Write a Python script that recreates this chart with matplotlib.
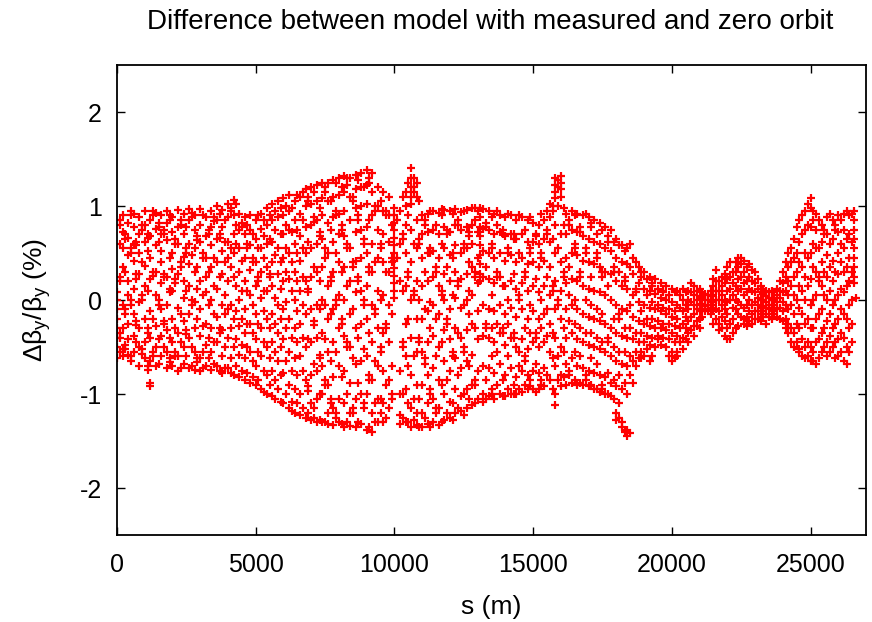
import matplotlib
matplotlib.use("Agg")
import matplotlib.pyplot as plt

plt.rcParams['font.family'] = ['Liberation Sans', 'DejaVu Sans']
plt.rcParams['mathtext.fontset'] = 'custom'
plt.rcParams['mathtext.rm'] = 'Liberation Sans'
plt.rcParams['mathtext.it'] = 'Liberation Sans'
plt.rcParams['axes.unicode_minus'] = False

title = "Difference between model with measured and zero orbit"
xlabel = "s (m)"
ylabel = r"$\Delta\beta_y/\beta_y$ (%)"
xticks = [0, 5000, 10000, 15000, 20000, 25000]
yticks = [-2, -1, 0, 1, 2]

# each entry: (s in m, list of delta beta_y / beta_y values in %)
octant1 = [
    (0, [-0.62, -0.5, -0.4, -0.3, -0.2, -0.1, 0.0, 0.08]),
    (200, [0.9, 0.72, 0.55, 0.35, -0.05, -0.3, -0.52, -0.6]),
    (400, [0.82, 0.66, 0.48, 0.2, 0.05, -0.25, -0.42, -0.58]),
    (600, [0.92, 0.78, 0.6, 0.42, 0.12, -0.15, -0.38, -0.55]),
    (800, [0.88, 0.7, 0.5, 0.28, -0.02, -0.3, -0.5, -0.7]),
    (1000, [0.95, 0.8, 0.62, 0.36, 0.15, -0.2, -0.45, -0.62]),
    (1200, [0.85, 0.68, 0.45, 0.22, -0.12, -0.4, -0.65, -0.88, -0.92]),
    (1400, [0.93, 0.76, 0.58, 0.3, 0.05, -0.28, -0.5, -0.7]),
    (1600, [0.9, 0.7, 0.52, 0.4, 0.18, -0.1, -0.38, -0.6]),
    (1800, [0.95, 0.82, 0.64, 0.25, -0.05, -0.32, -0.55, -0.72]),
    (2000, [0.88, 0.72, 0.5, 0.33, 0.1, -0.2, -0.45, -0.7]),
    (2200, [0.96, 0.78, 0.6, 0.28, -0.08, -0.35, -0.6, -0.76]),
    (2400, [0.92, 0.7, 0.46, 0.2, 0.02, -0.22, -0.5, -0.68]),
    (2600, [0.97, 0.85, 0.6, 0.38, 0.15, -0.15, -0.4, -0.72]),
    (2800, [0.9, 0.74, 0.55, 0.3, -0.02, -0.3, -0.55, -0.74]),
    (3000, [0.97, 0.8, 0.62, 0.2, -0.1, -0.38, -0.62, -0.76]),
    (3200, [0.88, 0.68, 0.45, 0.25, 0.08, -0.25, -0.48, -0.7]),
    (100, [0.85, 0.8, 0.6, 0.25, 0.2, -0.35, -0.4, -0.55]),
    (300, [0.7, 0.65, 0.3, -0.1, -0.15, -0.48, -0.52]),
    (500, [0.95, 0.9, 0.55, 0.5, 0.0, -0.05, -0.6, -0.65]),
    (700, [0.62, 0.58, 0.28, 0.22, -0.22, -0.27, -0.45]),
    (900, [0.8, 0.75, 0.4, 0.05, 0.0, -0.52, -0.57]),
    (1100, [0.7, 0.66, 0.52, 0.1, -0.3, -0.35, -0.7, -0.74]),
    (1300, [0.95, 0.9, 0.3, 0.26, -0.2, -0.55, -0.6]),
    (1500, [0.82, 0.78, 0.62, 0.0, -0.05, -0.42, -0.68]),
    (1700, [0.75, 0.7, 0.28, 0.24, -0.22, -0.26, -0.5]),
    (1900, [0.9, 0.85, 0.45, 0.12, 0.08, -0.4, -0.62, -0.66]),
    (2100, [0.65, 0.6, 0.22, 0.18, -0.3, -0.55, -0.6]),
    (2300, [0.85, 0.8, 0.4, 0.35, -0.15, -0.45, -0.72]),
    (2500, [0.78, 0.55, 0.5, 0.1, -0.32, -0.36, -0.6]),
    (2700, [0.93, 0.88, 0.48, 0.0, -0.05, -0.5, -0.7]),
    (2900, [0.68, 0.64, 0.35, 0.12, -0.2, -0.62, -0.66]),
    (3100, [0.9, 0.5, 0.45, 0.05, -0.28, -0.55, -0.72]),
    (3300, [0.75, 0.7, 0.3, -0.05, -0.4, -0.62]),
]
octant2 = [
    (3400, [0.95, 0.78, 0.58, 0.35, 0.0, -0.3, -0.55, -0.74]),
    (3600, [1.0, 0.85, 0.65, 0.4, 0.12, -0.18, -0.45, -0.7]),
    (3800, [0.96, 0.78, 0.52, 0.28, -0.05, -0.32, -0.6, -0.78]),
    (4000, [1.02, 0.88, 0.62, 0.45, 0.2, -0.1, -0.4, -0.72]),
    (4200, [1.06, 0.9, 0.7, 0.5, 0.25, -0.2, -0.5, -0.8]),
    (4400, [0.92, 0.75, 0.55, 0.3, 0.0, -0.28, -0.58, -0.82]),
    (4600, [0.88, 0.7, 0.45, 0.2, -0.1, -0.35, -0.62, -0.85]),
    (4800, [0.9, 0.74, 0.58, 0.32, 0.05, -0.25, -0.55, -0.88]),
    (5000, [0.85, 0.65, 0.4, 0.15, -0.15, -0.42, -0.7, -0.9]),
    (5200, [0.92, 0.76, 0.55, 0.3, 0.02, -0.3, -0.6, -0.95]),
    (5400, [0.98, 0.8, 0.6, 0.35, 0.1, -0.2, -0.5, -0.8, -1.0]),
    (5600, [1.02, 0.85, 0.62, 0.4, 0.15, -0.15, -0.45, -0.75, -1.02]),
    (5800, [1.05, 0.88, 0.55, 0.28, -0.05, -0.35, -0.65, -0.95]),
    (6000, [1.08, 0.9, 0.7, 0.45, 0.2, -0.1, -0.42, -0.78, -1.1]),
    (6200, [1.12, 0.95, 0.75, 0.5, 0.22, -0.2, -0.55, -0.9, -1.15]),
    (6400, [1.05, 0.85, 0.6, 0.3, 0.0, -0.3, -0.62, -0.95, -1.2]),
    (6600, [1.1, 0.92, 0.68, 0.42, 0.1, -0.25, -0.6, -1.0, -1.22]),
    (3500, [0.88, 0.84, 0.45, 0.15, -0.15, -0.45, -0.68]),
    (3700, [0.92, 0.7, 0.66, 0.25, -0.3, -0.35, -0.75]),
    (3900, [0.85, 0.62, 0.4, 0.05, -0.15, -0.5, -0.72]),
    (4100, [0.98, 0.95, 0.55, 0.35, -0.05, -0.3, -0.62, -0.78]),
    (4300, [1.02, 0.8, 0.6, 0.15, -0.12, -0.42, -0.7]),
    (4500, [0.82, 0.78, 0.42, 0.1, -0.2, -0.48, -0.75]),
    (4700, [0.8, 0.6, 0.55, 0.1, -0.25, -0.5, -0.78]),
    (4900, [0.7, 0.45, 0.4, -0.05, -0.35, -0.65, -0.82]),
    (5100, [0.9, 0.55, 0.25, 0.2, -0.25, -0.55, -0.85]),
    (5300, [0.85, 0.68, 0.45, 0.1, -0.12, -0.45, -0.75, -0.98]),
    (5500, [0.9, 0.65, 0.28, 0.24, -0.3, -0.62, -0.9]),
    (5700, [0.95, 0.75, 0.48, 0.02, -0.25, -0.55, -0.85, -1.05]),
    (5900, [0.98, 0.7, 0.4, 0.12, -0.2, -0.5, -0.8, -1.08]),
    (6100, [1.0, 0.8, 0.55, 0.3, -0.02, -0.3, -0.65, -1.0]),
    (6300, [0.98, 0.72, 0.4, 0.1, -0.4, -0.75, -1.08, -1.18]),
    (6500, [1.12, 0.75, 0.5, 0.2, -0.12, -0.45, -0.8, -1.1]),
    (6700, [1.15, 0.85, 0.55, 0.25, -0.05, -0.4, -0.75, -1.15]),
]
octant3 = [
    (6800, [1.18, 1.0, 0.78, 0.5, 0.2, -0.15, -0.5, -0.85, -1.25]),
    (7000, [1.2, 1.02, 0.8, 0.55, 0.25, -0.1, -0.45, -0.8, -1.1, -1.28]),
    (7200, [1.22, 1.05, 0.85, 0.6, 0.3, -0.05, -0.4, -0.75, -1.05, -1.3]),
    (7400, [1.24, 1.08, 0.9, 0.65, 0.35, 0.0, -0.35, -0.7, -1.0, -1.3]),
    (7600, [1.25, 1.05, 0.82, 0.5, 0.15, -0.2, -0.55, -0.9, -1.2, -1.32]),
    (7800, [1.28, 1.1, 0.88, 0.62, 0.3, -0.1, -0.45, -0.82, -1.15, -1.33]),
    (8000, [1.3, 1.12, 0.92, 0.7, 0.4, 0.05, -0.3, -0.7, -1.05, -1.3]),
    (8200, [1.32, 1.15, 0.95, 0.68, 0.35, 0.0, -0.38, -0.75, -1.1, -1.35]),
    (8400, [1.3, 1.1, 0.85, 0.55, 0.2, -0.15, -0.5, -0.88, -1.2, -1.34]),
    (8600, [1.33, 1.18, 0.98, 0.72, 0.42, 0.08, -0.3, -0.68, -1.05, -1.35]),
    (8800, [1.35, 1.2, 1.0, 0.75, 0.45, 0.1, -0.25, -0.65, -1.0, -1.32]),
    (9000, [1.38, 1.22, 1.02, 0.78, 0.5, 0.15, -0.2, -0.6, -1.0, -1.38]),
    (9200, [1.35, 1.15, 0.9, 0.6, 0.3, -0.05, -0.45, -0.85, -1.2, -1.4]),
    (9400, [1.2, 1.0, 0.75, 0.45, 0.1, -0.3, -0.7, -1.05, -1.3]),
    (9600, [1.15, 0.95, 0.7, 0.4, 0.05, -0.35, -0.75, -1.1, -1.3]),
    (9800, [1.1, 0.9, 0.62, 0.3, -0.05, -0.45, -0.85, -1.15]),
    (9970, [0.98, 0.9, 0.82, 0.74, 0.66, 0.58, 0.5, 0.42, 0.34, 0.26, 0.18, 0.1, 0.02]),
    (6900, [1.1, 1.05, 0.62, 0.12, 0.08, -0.42, -0.92, -0.97, -1.2]),
    (7100, [1.15, 0.88, 0.83, 0.35, -0.22, -0.27, -0.68, -1.15, -1.25]),
    (7300, [0.98, 0.72, 0.68, 0.2, -0.1, -0.58, -0.62, -1.0, -1.28]),
    (7500, [1.2, 1.15, 0.55, 0.45, -0.05, -0.42, -0.85, -0.9, -1.3]),
    (7700, [1.05, 0.75, 0.25, 0.2, -0.15, -0.65, -1.05, -1.1]),
    (7900, [1.25, 0.95, 0.9, 0.5, 0.0, -0.05, -0.55, -1.2, -1.25]),
    (8100, [1.2, 0.8, 0.75, 0.3, -0.2, -0.25, -0.82, -1.32]),
    (8300, [1.3, 1.22, 0.6, 0.55, 0.15, -0.45, -0.5, -1.0, -1.3]),
    (8500, [1.1, 1.05, 0.4, 0.35, -0.1, -0.62, -1.15, -1.2]),
    (8700, [1.28, 0.9, 0.85, 0.25, 0.2, -0.4, -0.88, -1.3]),
    (8900, [1.2, 0.65, 0.6, 0.0, -0.05, -0.52, -1.1, -1.15]),
    (9100, [1.3, 1.25, 0.85, 0.35, 0.3, -0.35, -0.8, -0.85, -1.35]),
    (9300, [1.0, 0.95, 0.4, -0.1, -0.15, -0.65, -1.1, -1.3]),
    (9500, [1.05, 0.6, 0.55, 0.0, -0.5, -0.55, -1.05, -1.2]),
    (9700, [0.95, 0.9, 0.3, -0.25, -0.3, -0.9, -1.25]),
    (9900, [0.8, 0.45, 0.4, -0.15, -0.7, -1.0, -1.05]),
]
octant4 = [
    (10200, [0.95, 0.6, 0.2, -0.75, -1.0, -1.22, -1.32]),
    (10400, [1.15, 1.0, 0.8, 0.5, 0.15, -0.25, -0.6, -0.95, -1.3]),
    (10600, [1.4, 1.3, 1.2, 1.1, 1.02, 0.75, 0.4, 0.0, -0.4, -0.8, -1.15, -1.35]),
    (10800, [1.25, 1.1, 0.85, 0.55, 0.2, -0.2, -0.55, -0.9, -1.2, -1.33]),
    (11000, [0.9, 0.7, 0.45, 0.15, -0.2, -0.55, -0.9, -1.2, -1.35]),
    (11200, [0.92, 0.72, 0.5, 0.2, -0.12, -0.45, -0.8, -1.1, -1.32]),
    (11400, [0.95, 0.75, 0.52, 0.25, -0.05, -0.38, -0.72, -1.05, -1.3]),
    (11600, [0.93, 0.7, 0.45, 0.15, -0.15, -0.5, -0.85, -1.15, -1.33]),
    (11800, [0.96, 0.78, 0.55, 0.28, 0.0, -0.32, -0.65, -1.0, -1.28]),
    (12000, [0.95, 0.72, 0.48, 0.2, -0.1, -0.42, -0.75, -1.08, -1.25]),
    (12200, [0.97, 0.8, 0.58, 0.3, 0.02, -0.3, -0.62, -0.95, -1.2]),
    (12400, [0.94, 0.74, 0.5, 0.22, -0.08, -0.4, -0.72, -1.02, -1.18]),
    (12600, [0.96, 0.78, 0.55, 0.28, 0.0, -0.32, -0.65, -0.95, -1.15]),
    (12800, [0.98, 0.8, 0.6, 0.35, 0.05, -0.25, -0.58, -0.9, -1.12]),
    (13000, [0.95, 0.72, 0.45, 0.18, -0.12, -0.42, -0.75, -1.05]),
    (13100, [0.98, 0.88, 0.78, 0.68, 0.58, 0.48, 0.38, 0.28, 0.2]),
    (13200, [0.97, 0.76, 0.52, 0.25, -0.05, -0.38, -0.7, -1.0, -1.08]),
    (13400, [0.95, 0.75, 0.5, 0.22, -0.1, -0.4, -0.72, -1.02]),
    (10100, [0.85, 0.45]),
    (10300, [1.1, 0.7, 0.65, 0.1, -0.45, -0.5, -1.0, -1.25]),
    (10500, [1.25, 0.9, 0.3, 0.25, -0.2, -0.7, -1.1, -1.3]),
    (10700, [1.3, 1.2, 1.15, 0.6, 0.1, 0.05, -0.6, -1.05, -1.28]),
    (10900, [1.05, 0.65, 0.6, 0.0, -0.4, -0.45, -1.05, -1.35]),
    (11100, [0.85, 0.8, 0.3, -0.1, -0.62, -0.68, -1.25]),
    (11300, [0.95, 0.55, 0.5, -0.02, -0.3, -0.95, -1.0, -1.35]),
    (11500, [0.8, 0.35, 0.3, -0.2, -0.6, -1.15, -1.2]),
    (11700, [0.97, 0.9, 0.6, 0.1, 0.05, -0.45, -0.9, -1.3]),
    (11900, [0.75, 0.7, 0.35, -0.2, -0.25, -0.85, -1.2]),
    (12100, [0.92, 0.5, 0.45, 0.05, -0.55, -0.6, -1.1, -1.28]),
    (12300, [0.85, 0.8, 0.2, 0.15, -0.35, -0.8, -1.15]),
    (12500, [0.95, 0.6, 0.55, -0.05, -0.5, -0.55, -1.0, -1.22]),
    (12700, [0.72, 0.68, 0.4, 0.1, -0.15, -0.7, -1.05]),
    (12900, [0.98, 0.85, 0.3, 0.25, -0.3, -0.85, -0.9, -1.1]),
    (13300, [0.82, 0.78, 0.35, -0.25, -0.3, -0.85, -1.05]),
]
octant5 = [
    (13600, [0.92, 0.7, 0.45, 0.18, -0.12, -0.45, -0.78, -1.05]),
    (13800, [0.9, 0.72, 0.5, 0.25, -0.05, -0.35, -0.68, -1.0]),
    (14000, [0.88, 0.68, 0.42, 0.15, -0.15, -0.48, -0.8, -1.02]),
    (14200, [0.9, 0.7, 0.48, 0.2, -0.08, -0.4, -0.72, -1.0]),
    (14400, [0.85, 0.65, 0.4, 0.12, -0.18, -0.5, -0.82, -1.0]),
    (14600, [0.88, 0.7, 0.45, 0.18, -0.1, -0.42, -0.75, -0.98]),
    (14800, [0.85, 0.62, 0.38, 0.1, -0.2, -0.52, -0.8, -0.95]),
    (15000, [0.82, 0.62, 0.4, 0.15, -0.12, -0.45, -0.75, -0.95]),
    (15200, [0.8, 0.6, 0.35, 0.08, -0.2, -0.5, -0.78, -0.95]),
    (15400, [0.85, 0.65, 0.42, 0.15, -0.15, -0.45, -0.72, -0.92]),
    (15600, [1.02, 0.88, 0.62, 0.35, 0.05, -0.25, -0.55, -0.85]),
    (15800, [1.3, 1.22, 1.15, 1.08, 0.8, 0.5, 0.2, -0.1, -0.4, -0.7, -1.0, -1.12]),
    (16000, [1.32, 1.25, 1.18, 1.1, 0.7, 0.4, 0.1, -0.2, -0.5, -0.8, -0.92]),
    (16200, [0.92, 0.7, 0.45, 0.18, -0.1, -0.4, -0.68, -0.9]),
    (16400, [0.95, 0.75, 0.5, 0.22, -0.05, -0.35, -0.62, -0.88]),
    (16600, [0.92, 0.72, 0.48, 0.2, -0.1, -0.42, -0.7, -0.9]),
    (16800, [0.9, 0.68, 0.42, 0.15, -0.15, -0.45, -0.72, -0.9]),
    (13500, [0.88, 0.6, 0.55, 0.05, -0.3, -0.6, -0.95, -1.0]),
    (13700, [0.95, 0.8, 0.3, 0.25, -0.25, -0.55, -0.9]),
    (13900, [0.75, 0.7, 0.15, -0.3, -0.35, -0.85, -1.02]),
    (14100, [0.92, 0.55, 0.5, 0.0, -0.25, -0.6, -0.95]),
    (14300, [0.7, 0.65, 0.28, -0.35, -0.4, -0.9, -1.0]),
    (14500, [0.9, 0.5, 0.05, 0.0, -0.55, -0.7, -0.95]),
    (14700, [0.75, 0.3, 0.25, -0.3, -0.6, -0.65, -0.9]),
    (14900, [0.88, 0.55, 0.5, -0.05, -0.35, -0.85, -0.92]),
    (15100, [0.7, 0.68, 0.22, -0.35, -0.4, -0.68, -0.98]),
    (15300, [0.92, 0.5, 0.45, 0.0, -0.3, -0.85, -0.9]),
    (15500, [0.95, 0.75, 0.7, 0.25, -0.1, -0.38, -0.8]),
    (15700, [1.0, 0.95, 0.65, 0.15, 0.1, -0.35, -0.62, -0.95]),
    (15900, [1.28, 1.2, 1.0, 0.55, 0.0, -0.05, -0.6, -0.85]),
    (16100, [0.98, 0.8, 0.3, 0.25, -0.3, -0.55, -0.82]),
    (16300, [0.85, 0.8, 0.35, 0.05, -0.22, -0.75, -0.8]),
    (16500, [0.9, 0.6, 0.55, 0.0, -0.25, -0.55, -0.85]),
    (16700, [0.78, 0.72, 0.3, 0.25, -0.3, -0.6, -0.88]),
    (16900, [0.92, 0.55, 0.5, 0.0, -0.35, -0.8, -0.85]),
]
octant6 = [
    (17000, [0.88, 0.65, 0.4, 0.12, -0.18, -0.48, -0.75, -0.92]),
    (17200, [0.85, 0.62, 0.38, 0.1, -0.2, -0.5, -0.78, -0.95]),
    (17400, [0.82, 0.6, 0.35, 0.08, -0.22, -0.52, -0.8, -0.98]),
    (17600, [0.78, 0.55, 0.3, 0.05, -0.25, -0.55, -0.82, -1.0]),
    (17800, [0.75, 0.52, 0.28, 0.0, -0.3, -0.6, -0.88, -1.02]),
    (18000, [0.65, 0.45, 0.2, -0.05, -0.35, -0.65, -0.92, -1.2, -1.28]),
    (18200, [0.58, 0.4, 0.15, -0.1, -0.38, -0.68, -0.95, -1.3, -1.35]),
    (18400, [0.55, 0.38, 0.12, -0.12, -0.4, -0.7, -1.0, -1.38, -1.45]),
    (18600, [0.45, 0.28, 0.05, -0.18, -0.42, -0.65, -0.88]),
    (18800, [0.35, 0.18, -0.02, -0.22, -0.45, -0.62]),
    (19000, [0.3, 0.12, -0.05, -0.25, -0.45, -0.6]),
    (19200, [0.25, 0.1, -0.08, -0.28, -0.48, -0.65]),
    (19400, [0.22, 0.06, -0.1, -0.3, -0.5]),
    (19600, [0.18, 0.02, -0.12, -0.3, -0.48]),
    (19800, [0.15, 0.0, -0.15, -0.32, -0.5]),
    (20000, [0.12, -0.02, -0.18, -0.35, -0.55, -0.65]),
    (17100, [0.82, 0.78, 0.25, -0.05, -0.35, -0.62, -0.9]),
    (17300, [0.7, 0.5, 0.45, -0.1, -0.4, -0.68, -0.95]),
    (17500, [0.75, 0.3, 0.25, -0.15, -0.45, -0.9, -0.95]),
    (17700, [0.68, 0.62, 0.15, -0.4, -0.45, -0.78, -1.0]),
    (17900, [0.62, 0.35, 0.3, -0.2, -0.5, -0.85, -1.05]),
    (18100, [0.58, 0.3, -0.15, -0.2, -0.55, -0.8, -1.1, -1.25]),
    (18300, [0.52, 0.25, 0.2, -0.3, -0.55, -0.88, -1.4]),
    (18500, [0.6, 0.35, -0.05, -0.3, -0.6, -0.8, -1.42]),
    (18700, [0.4, 0.12, 0.08, -0.35, -0.55, -0.7]),
    (18900, [0.3, 0.25, -0.12, -0.35, -0.55, -0.62]),
    (19100, [0.22, 0.05, -0.2, -0.38, -0.52]),
    (19300, [0.18, 0.15, -0.02, -0.2, -0.4, -0.6]),
    (19500, [0.12, -0.05, -0.22, -0.38, -0.42]),
    (19700, [0.1, 0.08, -0.08, -0.25, -0.4]),
    (19900, [0.05, -0.1, -0.25, -0.42, -0.6]),
]
octant7 = [
    (20200, [0.1, -0.05, -0.2, -0.38, -0.55, -0.6]),
    (20400, [0.12, 0.0, -0.12, -0.25, -0.4, -0.52]),
    (20600, [0.1, 0.0, -0.1, -0.22, -0.35, -0.45]),
    (20800, [0.15, 0.05, -0.05, -0.15, -0.28, -0.38]),
    (21000, [0.12, 0.04, -0.04, -0.12, -0.2, -0.3]),
    (21200, [0.06, 0.0, -0.06, -0.12]),
    (21400, [0.1, 0.04, -0.02, -0.08, -0.15]),
    (21600, [0.32, 0.2, 0.1, 0.0, -0.1, -0.2]),
    (21800, [0.25, 0.15, 0.05, -0.05, -0.18, -0.3]),
    (22000, [0.35, 0.22, 0.1, -0.02, -0.15, -0.3, -0.42]),
    (22200, [0.3, 0.18, 0.05, -0.08, -0.2, -0.35]),
    (22400, [0.45, 0.35, 0.22, 0.1, -0.02, -0.15, -0.28]),
    (22600, [0.42, 0.3, 0.18, 0.05, -0.08, -0.2, -0.25]),
    (22800, [0.38, 0.25, 0.12, 0.0, -0.12, -0.22]),
    (23000, [0.3, 0.18, 0.08, -0.02, -0.12, -0.2]),
    (23200, [0.15, 0.08, 0.0, -0.08, -0.15, -0.22]),
    (23400, [0.1, 0.04, -0.02, -0.08, -0.15, -0.25]),
    (20100, [0.08, -0.12, -0.28, -0.45, -0.62]),
    (20300, [0.05, -0.08, -0.3, -0.45]),
    (20500, [0.08, -0.05, -0.18, -0.3, -0.42]),
    (20700, [0.18, 0.08, -0.02, -0.18, -0.32]),
    (20900, [0.1, 0.0, -0.1, -0.22, -0.28]),
    (21100, [0.08, 0.02, -0.05, -0.1, -0.18]),
    (21300, [0.05, 0.0, -0.05, -0.1]),
    (21500, [0.22, 0.15, 0.05, -0.05, -0.12, -0.25]),
    (21700, [0.2, 0.1, 0.0, -0.12, -0.25, -0.32]),
    (21900, [0.28, 0.18, 0.0, -0.1, -0.22, -0.38]),
    (22100, [0.4, 0.25, 0.12, 0.0, -0.25, -0.42]),
    (22300, [0.4, 0.3, 0.15, 0.0, -0.1, -0.3]),
    (22500, [0.45, 0.38, 0.25, 0.12, -0.05, -0.18]),
    (22700, [0.35, 0.2, 0.08, -0.05, -0.18, -0.28]),
    (22900, [0.32, 0.2, 0.1, -0.05, -0.15, -0.25]),
    (23100, [0.22, 0.12, 0.02, -0.05, -0.12, -0.2]),
    (23300, [0.12, 0.06, 0.0, -0.06, -0.12, -0.18]),
    (23500, [0.08, 0.02, -0.05, -0.1, -0.18]),
]
octant8 = [
    (23600, [0.1, 0.02, -0.05, -0.12, -0.2]),
    (23800, [0.12, 0.05, -0.02, -0.1, -0.18]),
    (24000, [0.3, 0.18, 0.08, -0.02, -0.12, -0.22]),
    (24200, [0.5, 0.35, 0.2, 0.05, -0.1, -0.25, -0.35]),
    (24400, [0.65, 0.45, 0.25, 0.05, -0.15, -0.35, -0.5]),
    (24600, [0.85, 0.62, 0.4, 0.15, -0.08, -0.3, -0.52, -0.55]),
    (24800, [0.95, 0.75, 0.5, 0.25, 0.0, -0.25, -0.5, -0.62]),
    (25000, [1.08, 0.98, 0.78, 0.5, 0.22, -0.05, -0.3, -0.5, -0.65]),
    (25200, [0.92, 0.75, 0.55, 0.3, 0.05, -0.2, -0.45, -0.68]),
    (25400, [0.8, 0.62, 0.4, 0.15, -0.1, -0.35, -0.55]),
    (25600, [0.88, 0.7, 0.48, 0.25, 0.0, -0.22, -0.45, -0.6]),
    (25800, [0.85, 0.65, 0.42, 0.2, -0.05, -0.3, -0.5]),
    (26000, [0.9, 0.72, 0.5, 0.28, 0.05, -0.2, -0.42, -0.6]),
    (26200, [0.92, 0.75, 0.55, 0.3, 0.08, -0.15, -0.4, -0.65]),
    (26400, [0.9, 0.7, 0.45, 0.2, -0.05, -0.3, -0.55]),
    (26550, [0.95, 0.85, 0.75, 0.65, 0.55, 0.45, 0.35, 0.25, 0.18]),
    (26650, [0.02]),
    (23700, [0.08, 0.0, -0.08, -0.15]),
    (23900, [0.2, 0.1, 0.02, -0.08, -0.2]),
    (24100, [0.4, 0.25, 0.1, -0.05, -0.2, -0.3]),
    (24300, [0.55, 0.4, 0.15, -0.05, -0.3, -0.45]),
    (24500, [0.78, 0.5, 0.3, 0.0, -0.25, -0.45]),
    (24700, [0.9, 0.7, 0.35, 0.1, -0.15, -0.42, -0.6]),
    (24900, [1.02, 0.8, 0.45, 0.15, -0.2, -0.45, -0.6]),
    (25100, [0.95, 0.85, 0.6, 0.35, 0.0, -0.3, -0.55, -0.65]),
    (25300, [0.85, 0.55, 0.25, 0.2, -0.15, -0.42, -0.62]),
    (25500, [0.75, 0.7, 0.3, 0.05, -0.3, -0.5]),
    (25700, [0.92, 0.6, 0.35, 0.1, -0.15, -0.38, -0.55]),
    (25900, [0.8, 0.75, 0.3, 0.0, -0.25, -0.45, -0.62]),
    (26100, [0.85, 0.6, 0.4, 0.12, -0.1, -0.35, -0.55]),
    (26300, [0.95, 0.65, 0.35, 0.15, -0.2, -0.5, -0.68]),
    (26500, [0.92, 0.62, 0.3, 0.0, -0.25, -0.45]),
]

s_vals, d_vals = [], []
for octant in (octant1, octant2, octant3, octant4, octant5, octant6, octant7, octant8):
    for s, ys in octant:
        for y in ys:
            s_vals.append(s)
            d_vals.append(y)

fig = plt.figure(figsize=(8.72, 6.22), dpi=100)
ax = fig.add_axes([117/872, 1 - 535/622, (866 - 117)/872, (535 - 65)/622])
ax.plot(s_vals, d_vals, linestyle='none', marker='+', color='#ff0000',
        markersize=6, markeredgewidth=1.6)

ax.set_xlim(0, 27000)
ax.set_ylim(-2.5, 2.5)
ax.set_xticks(xticks)
ax.set_yticks(yticks)
ax.tick_params(direction='in', length=6, width=1.0, top=True, right=True,
               labelsize=18)
ax.tick_params(axis='x', pad=13)
ax.tick_params(axis='y', pad=11)
for sp in ax.spines.values():
    sp.set_linewidth(1.3)

fig.text(490/872, 1 - 22/622, title, ha='center', va='center', fontsize=20)
ax.set_xlabel(xlabel, fontsize=19, labelpad=13)
ax.set_ylabel(ylabel, fontsize=19, labelpad=19)

fig.savefig("out.png", dpi=100)
